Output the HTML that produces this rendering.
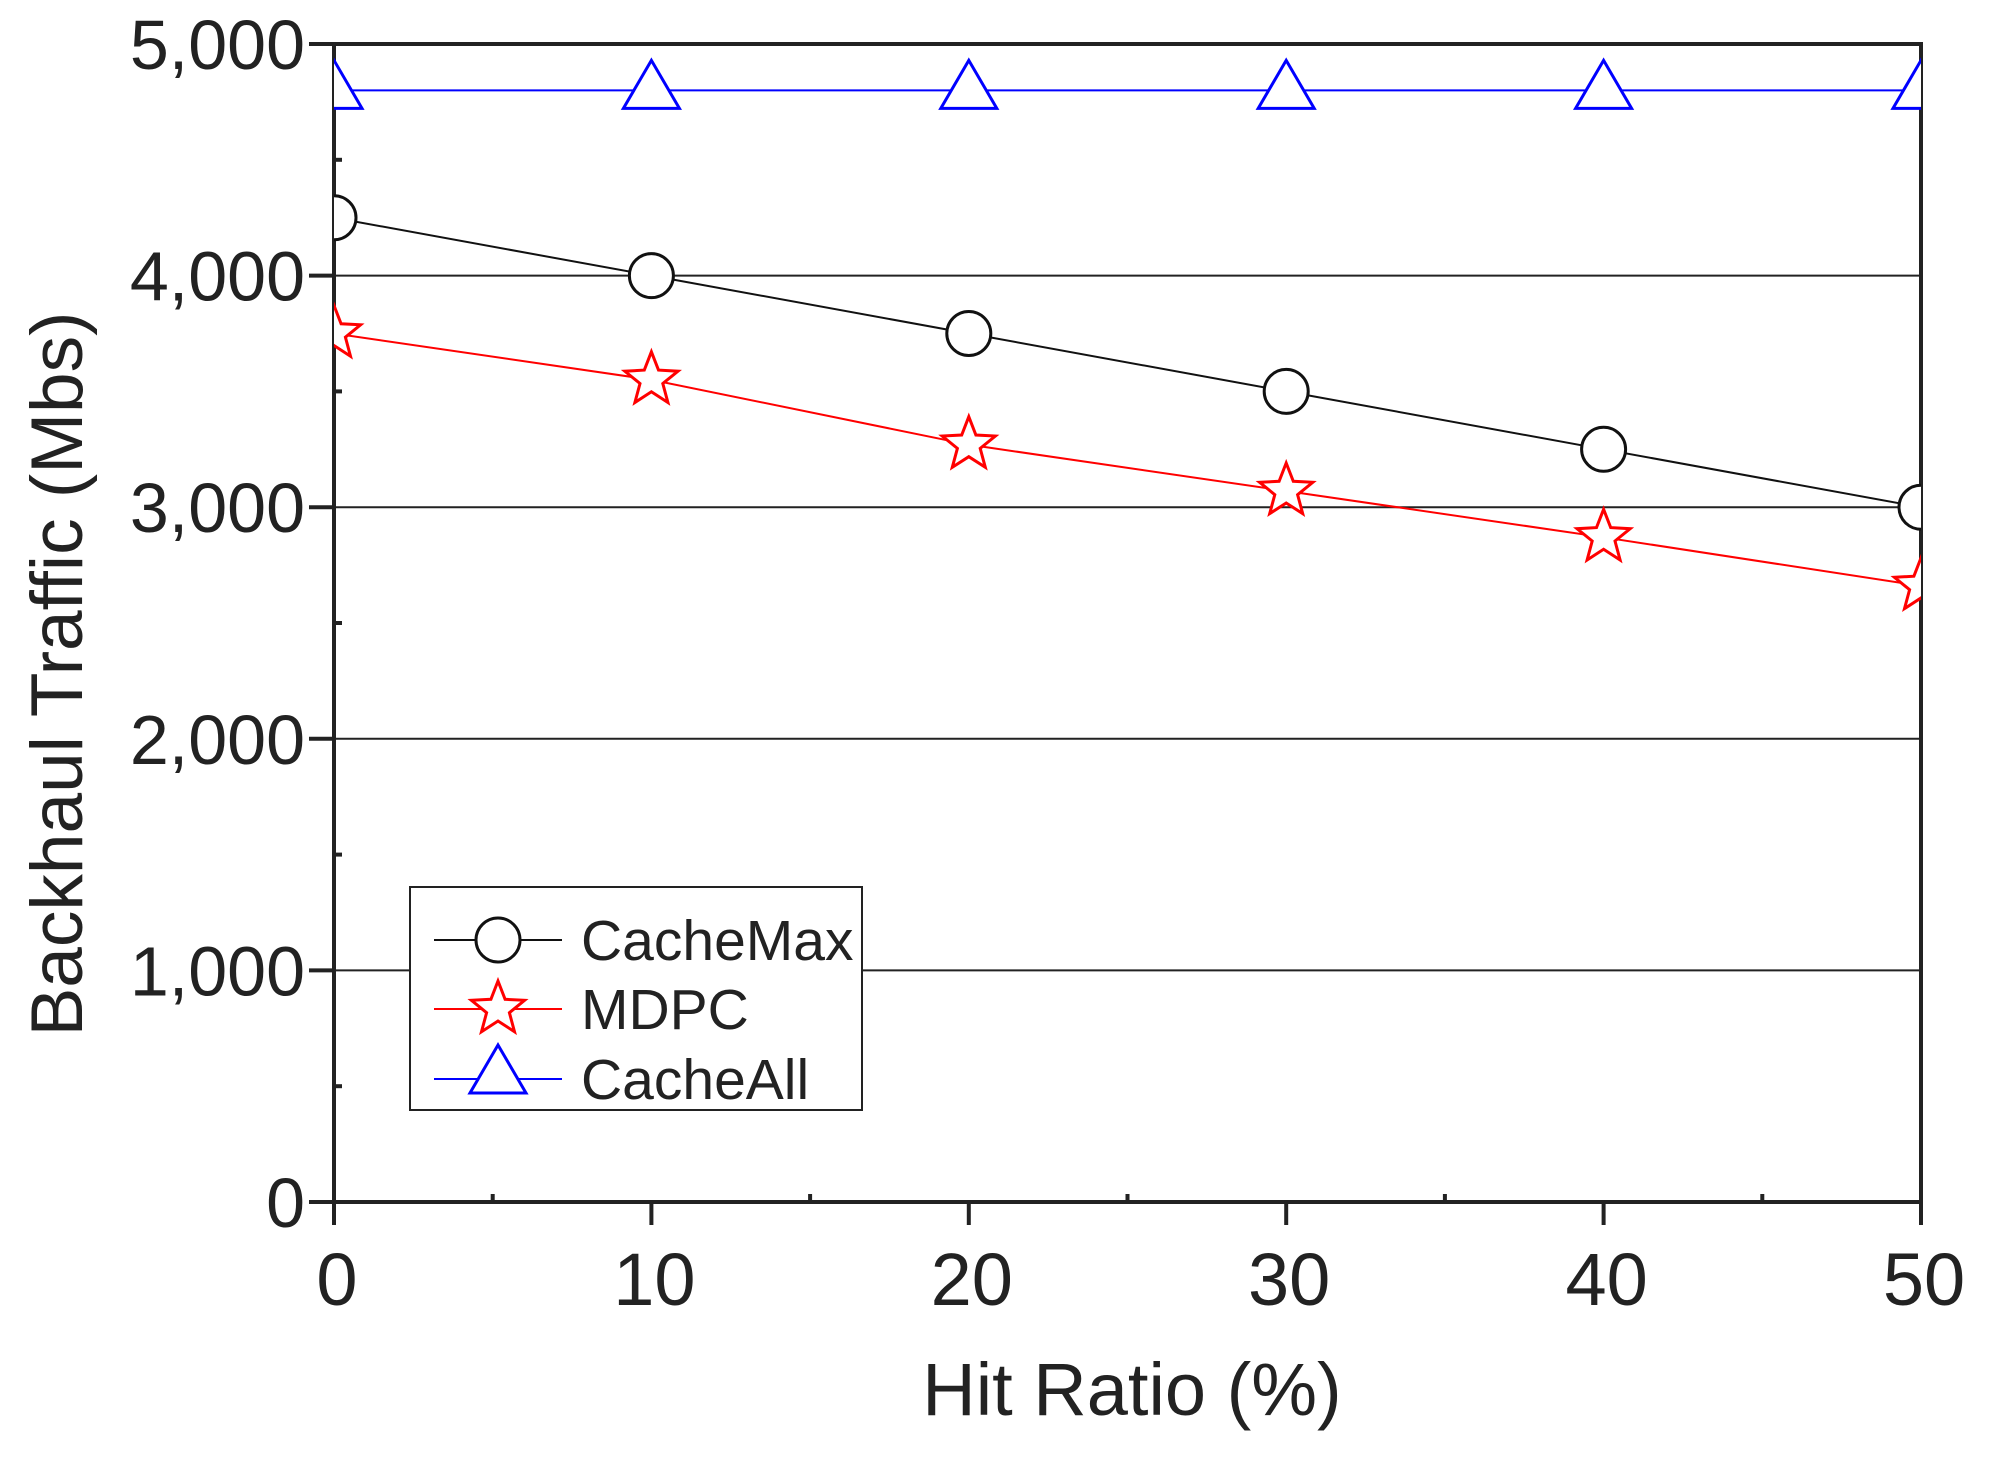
<!DOCTYPE html>
<html><head><meta charset="utf-8"><style>body{margin:0;background:#fff}svg{display:block}text{font-family:"Liberation Sans",sans-serif;fill:#222}</style></head>
<body>
<svg id="chart" width="1993" height="1464" xmlns="http://www.w3.org/2000/svg"></svg>
<script>
const xCats=[0,10,20,30,40,50];
const yTicks=[0,1000,2000,3000,4000,5000];
const yTickLabels=["0","1,000","2,000","3,000","4,000","5,000"];
const cacheMax=[4250,4000,3750,3500,3250,3000];
const mdpc=[3750,3550,3270,3070,2870,2660];
const cacheAll=[4800,4800,4800,4800,4800,4800];
const L=334,R=1921,T=44,B=1202;
const sx=v=>L+(v-0)/(50-0)*(R-L);
const sy=v=>B-(v/5000)*(B-T);
const svg=document.getElementById('chart');
const NS='http://www.w3.org/2000/svg';
function mk(tag,attrs,parent){const e=document.createElementNS(NS,tag);for(const k in attrs)e.setAttribute(k,attrs[k]);(parent||svg).appendChild(e);return e;}
yTicks.forEach((v,i)=>{if(v>0&&v<5000){const g=mk('line',{x1:L,x2:R,y1:sy(v),y2:sy(v),stroke:'#222','stroke-width':2});

}});
const fr=mk('rect',{x:L,y:T,width:R-L,height:B-T,fill:'none',stroke:'#222','stroke-width':4});


yTicks.forEach((v,i)=>{mk('line',{x1:L-25,x2:L,y1:sy(v),y2:sy(v),stroke:'#222','stroke-width':4});
const t=mk('text',{x:305,y:sy(v)+25,'text-anchor':'end','font-size':70});t.textContent=yTickLabels[i];


if(v<5000)mk('line',{x1:L,x2:L+8,y1:sy(v+500),y2:sy(v+500),stroke:'#222','stroke-width':4});});
xCats.forEach((v,i)=>{mk('line',{x1:sx(v),x2:sx(v),y1:B,y2:B+23,stroke:'#222','stroke-width':4});
if(v<50)mk('line',{x1:sx(v+5),x2:sx(v+5),y1:B,y2:B-8,stroke:'#222','stroke-width':4});
const t=mk('text',{x:sx(v)+3,y:1305,'text-anchor':'middle','font-size':74});t.textContent=String(v);

});
const xt=mk('text',{x:1132,y:1415,'text-anchor':'middle','font-size':74});xt.textContent='Hit Ratio (%)';


const yt=mk('text',{x:0,y:0,'text-anchor':'middle','font-size':73,transform:'translate(82,674) rotate(-90)'});yt.textContent='Backhaul Traffic (Mbs)';


function marker(type,x,y,col,g){
 if(type==='circle')mk('circle',{cx:x,cy:y,r:22,fill:'#fff',stroke:'#111','stroke-width':3},g);
 else if(type==='tri')mk('polygon',{points:`${x},${y-30} ${x+28},${y+18} ${x-28},${y+18}`,fill:'#fff',stroke:col,'stroke-width':3},g);
 else{let p=[];for(let k=0;k<10;k++){const r=k%2?12:28,a=-Math.PI/2+k*Math.PI/5;p.push((x+r*Math.cos(a)).toFixed(1)+','+(y+r*Math.sin(a)).toFixed(1));}
 mk('polygon',{points:p.join(' '),fill:'#fff',stroke:col,'stroke-width':3},g);}
}
const series=[['cacheall-series',cacheAll,'#0000ff','tri'],['cachemax-series',cacheMax,'#111','circle'],['mdpc-series',mdpc,'#ff0000','star']];
const clip=mk('clipPath',{id:'clp'});mk('rect',{x:L,y:T-2,width:R-L,height:B-T+4},clip);
series.forEach(([name,vals,col,type])=>{const g=mk('g',{'clip-path':'url(#clp)'});


mk('polyline',{points:vals.map((v,i)=>sx(xCats[i])+','+sy(v)).join(' '),fill:'none',stroke:col,'stroke-width':2},g);
vals.forEach((v,i)=>marker(type,sx(xCats[i]),sy(v),col,g));});
const lg=mk('g',{});


mk('rect',{x:410,y:887,width:452,height:223,fill:'#fff',stroke:'#222','stroke-width':2},lg);
[['CacheMax','#111','circle',940],['MDPC','#ff0000','star',1009],['CacheAll','#0000ff','tri',1079]].forEach(([lab,col,type,y])=>{
 const e=mk('g',{},lg);
 
 
 mk('line',{x1:434,x2:562,y1:y,y2:y,stroke:col,'stroke-width':2},e);
 marker(type,498,type==='tri'?y-4:y,col,e);
 const t=mk('text',{x:581,y:y+20,'font-size':57},e);t.textContent=lab;});
</script>
</body></html>
